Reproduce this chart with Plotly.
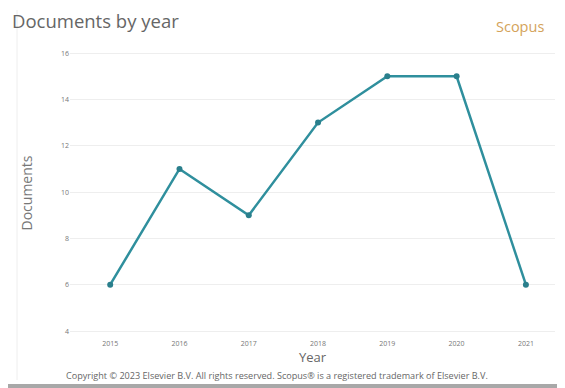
import plotly.graph_objects as go

years = [2015, 2016, 2017, 2018, 2019, 2020, 2021]
documents = [6, 11, 9, 13, 15, 15, 6]
y_ticks = [4, 6, 8, 10, 12, 14, 16]

# page has an 8px body margin, so the figure is sized/offset to compensate
OFF = 8
W, H = 565 - OFF, 388 - OFF
l, r, t, b = 70 - OFF, 10, 48 - OFF, 50
pw, ph = W - l - r, H - t - b


def px(x, y):
    return (x - OFF - l) / pw, 1 - (y - OFF - t) / ph


fig = go.Figure()
fig.add_trace(go.Scatter(
    x=years, y=documents, mode="lines+markers",
    line=dict(color="#2f8f9d", width=2.5),
    marker=dict(color="#2a7f8c", size=6),
    hoverinfo="x+y",
))

anns = []
for text, x, y, anchor, size, color in [
    ("Documents by year", 10, 20, "left", 18.5, "#666"),
    ("Scopus", 520, 26, "center", 14.5, "#d4a35a"),
    ("Copyright © 2023 Elsevier B.V. All rights reserved. Scopus® is a registered trademark of Elsevier B.V.",
     64, 375, "left", 9.1, "#666"),
]:
    ax, ay = px(x, y)
    anns.append(dict(text=text, x=ax, y=ay, xref="paper", yref="paper",
                     showarrow=False, xanchor=anchor, yanchor="middle",
                     font=dict(size=size, color=color)))

fig.update_layout(
    width=W, height=H,
    margin=dict(l=l, r=r, t=t, b=b),
    paper_bgcolor="white", plot_bgcolor="white",
    showlegend=False,
    font=dict(family="Open Sans, DejaVu Sans, sans-serif", color="#777"),
    xaxis=dict(
        range=[2014.42, 2021.42], tickvals=years,
        ticktext=[str(y) for y in years],
        tickfont=dict(size=7, color="#777"),
        showgrid=False, zeroline=False, showline=False,
        title=dict(text="Year", font=dict(size=13, color="#666"), standoff=4),
        fixedrange=True,
    ),
    yaxis=dict(
        range=[3.7, 16.22], tickvals=y_ticks,
        tickfont=dict(size=7, color="#777"),
        showgrid=True, gridcolor="#eeeeee", gridwidth=1,
        zeroline=False, showline=False, ticks="",
        title=dict(text="Documents", font=dict(size=14, color="#777"), standoff=25),
        fixedrange=True,
    ),
    annotations=anns,
)

x0, y0 = px(17, 10)
_, y1 = px(17, 380)
fig.add_shape(type="line", xref="paper", yref="paper",
              x0=x0, x1=x0, y0=y0, y1=y1,
              line=dict(color="#eeeeee", width=1))

# grey strip at the very bottom edge of the screenshot
bx0, by0 = px(OFF, 384)
bx1, by1 = px(565, 388)
fig.add_shape(type="rect", xref="paper", yref="paper",
              x0=bx0, x1=bx1, y0=by1, y1=by0,
              line=dict(width=0), fillcolor="#a8a8a8")

fig.write_html("out.html")
